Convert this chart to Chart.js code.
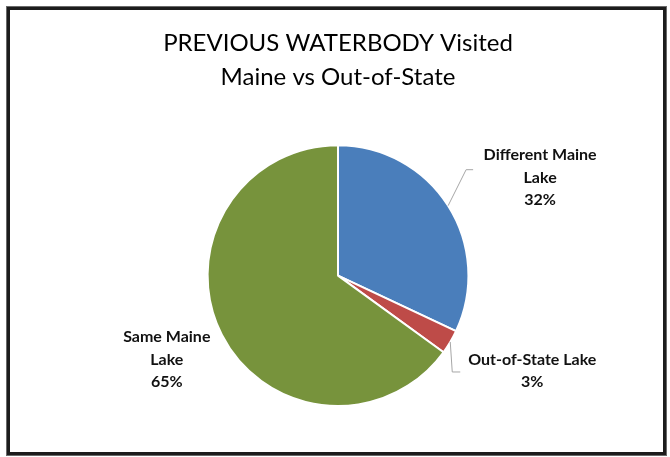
<!DOCTYPE html>
<html>
<head>
<meta charset="utf-8">
<script src="https://cdn.jsdelivr.net/npm/chart.js@4/dist/chart.umd.min.js"></script>
<style>
  html, body { margin: 0; padding: 0; background: #fff; }
  .wrap { position: relative; width: 670px; height: 457px; }
  .frame {
    position: absolute; left: 7px; top: 7px; width: 653px; height: 442px;
    border: 3px solid #1c1c1c; box-shadow: 0 0 0 1px #6a6a6a;
  }
  canvas { position: absolute; left: 0; top: 0; }
</style>
</head>
<body>
<div class="wrap">
  <div class="frame"></div>
  <canvas id="pie" width="670" height="457"></canvas>
</div>
<script>
// ─── Data ─────────────────────────────────────────────
const categories = ['Different Maine Lake', 'Out-of-State Lake', 'Same Maine Lake'];
const shares = [32, 3, 65];
const sliceColors = ['#4a7ebb', '#be4b48', '#77933c'];
const labelLines = [
  ['Different Maine', 'Lake', '32%'],
  ['Out-of-State Lake', '3%'],
  ['Same Maine', 'Lake', '65%']
];

// ─── Label placement (offsets from the slice's outer mid point) ──
const labelStyle = [
  { dx: 92, dy: -28, leader: [[18, -36], [25, -36]] },
  { dx: 82, dy: 29, leader: [[2, 30], [10, 30]] },
  { dx: -55, dy: 25, leader: null }
];

const pieLabels = {
  id: 'pieLabels',
  afterDatasetsDraw(chart) {
    const ctx = chart.ctx;
    const meta = chart.getDatasetMeta(0);
    ctx.save();
    meta.data.forEach((arc, i) => {
      const mid = (arc.startAngle + arc.endAngle) / 2;
      const ex = arc.x + Math.cos(mid) * arc.outerRadius;
      const ey = arc.y + Math.sin(mid) * arc.outerRadius;
      const st = labelStyle[i];
      if (st.leader) {
        ctx.strokeStyle = '#a6a6a6';
        ctx.lineWidth = 1;
        ctx.beginPath();
        ctx.moveTo(ex, ey);
        st.leader.forEach(p => ctx.lineTo(ex + p[0], ey + p[1]));
        ctx.stroke();
      }
      const lines = labelLines[i];
      const lh = 22.5;
      const cx = ex + st.dx;
      const cy = ey + st.dy - (lines.length - 1) * lh / 2;
      ctx.fillStyle = '#111';
      ctx.font = 'bold 16px Lato';
      ctx.textAlign = 'center';
      ctx.textBaseline = 'middle';
      lines.forEach((t, k) => ctx.fillText(t, cx, cy + k * lh));
    });
    ctx.restore();
  }
};

new Chart(document.getElementById('pie'), {
  type: 'pie',
  data: {
    labels: categories,
    datasets: [{
      data: shares,
      backgroundColor: sliceColors,
      borderColor: '#ffffff',
      borderWidth: 2
    }]
  },
  options: {
    responsive: false,
    animation: false,
    layout: { padding: { top: 0, bottom: 50, left: 6, right: 0 } },
    plugins: {
      legend: { display: false },
      tooltip: { enabled: false },
      title: {
        display: true,
        text: ['PREVIOUS WATERBODY Visited', 'Maine vs Out-of-State'],
        color: '#000',
        font: { family: 'Lato', size: 24, weight: 'normal', lineHeight: 1.42 },
        padding: { top: 26, bottom: 50 }
      }
    }
  },
  plugins: [pieLabels]
});
</script>
</body>
</html>
